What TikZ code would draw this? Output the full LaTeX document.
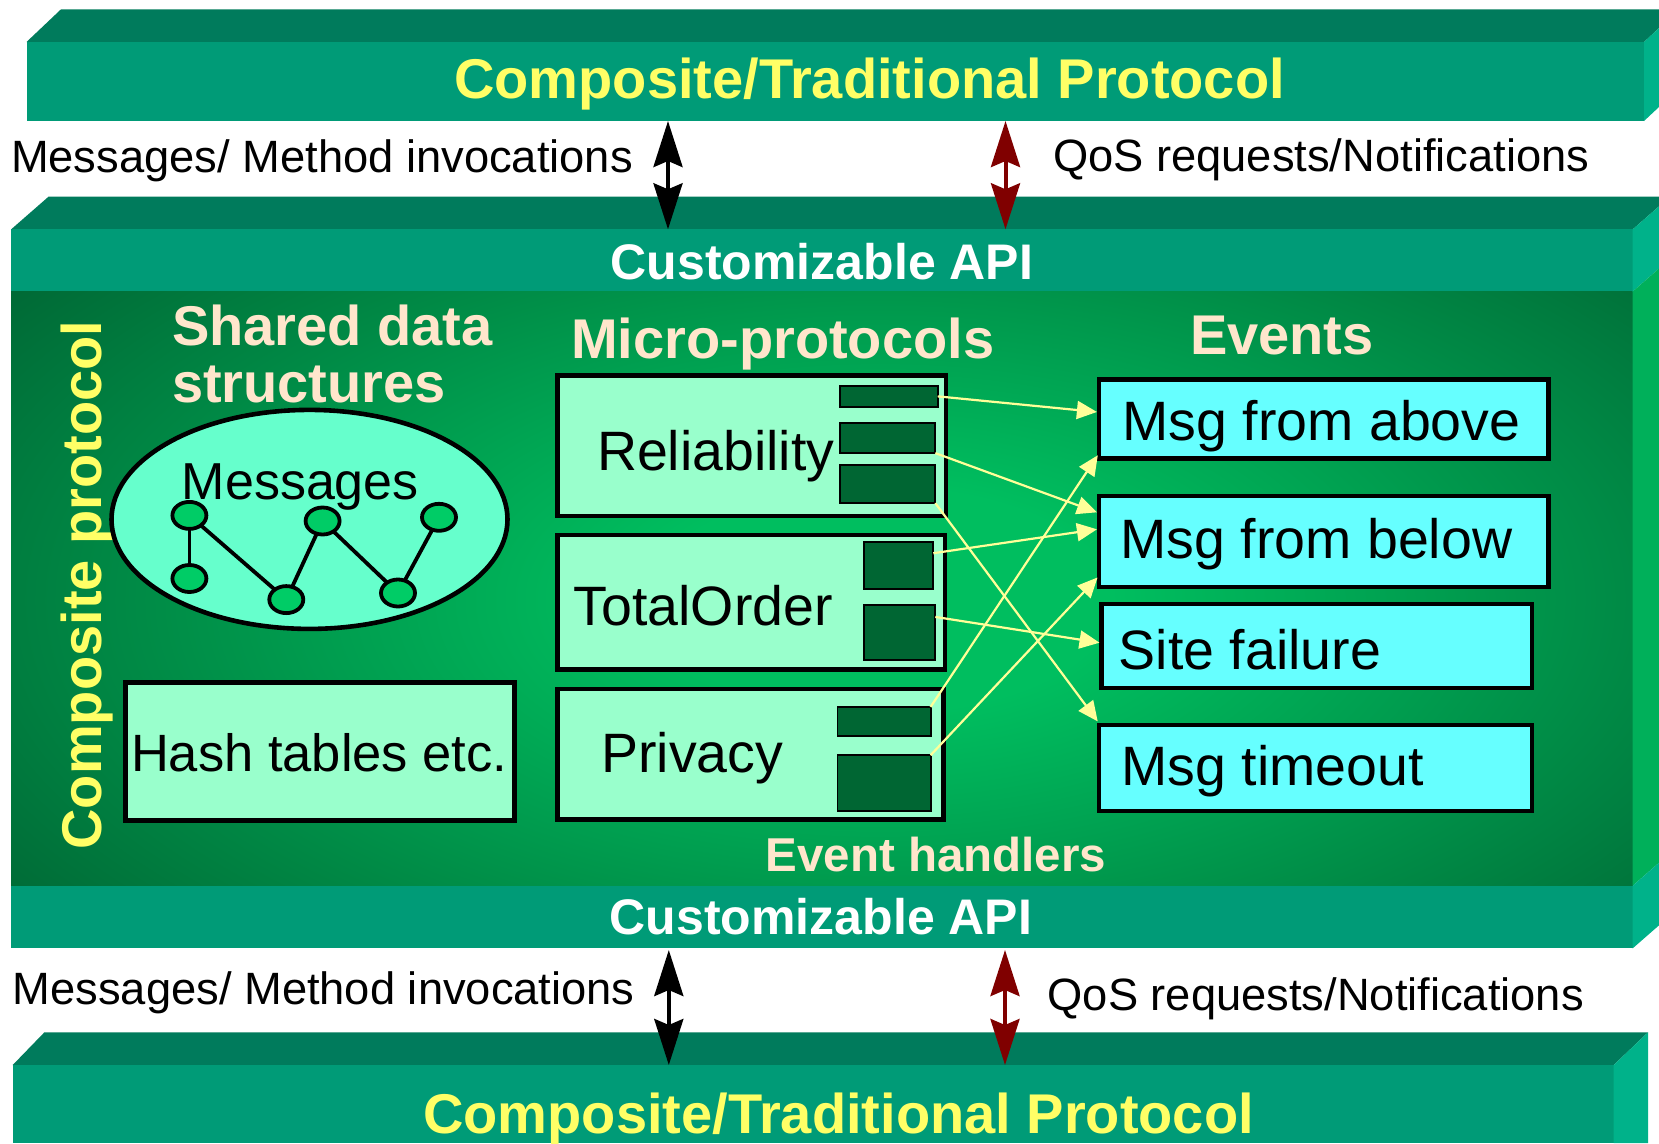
\documentclass[tikz,border=0pt]{standalone}
\usepackage{fontspec}
\setmainfont{Liberation Sans}
\usetikzlibrary{arrows.meta,shapes.geometric,fit}
\definecolor{slabtop}{HTML}{007B5C}
\definecolor{slabfront}{HTML}{009B77}
\definecolor{slabside}{HTML}{00B28A}
\definecolor{bodydark}{HTML}{006232}
\definecolor{bodybright}{HTML}{00BE5F}
\definecolor{bodyside}{HTML}{00B05A}
\definecolor{ttlyellow}{HTML}{FFFF66}
\definecolor{cream}{HTML}{FFE6CC}
\definecolor{ellfill}{HTML}{66FFCC}
\definecolor{dotfill}{HTML}{00CC66}
\definecolor{boxfill}{HTML}{99FFCC}
\definecolor{subfill}{HTML}{006633}
\definecolor{evfill}{HTML}{66FFFF}
\definecolor{hookyellow}{HTML}{FFFF99}
\definecolor{qosred}{HTML}{800000}
\pgfdeclareradialshading{glow}{\pgfpointorigin}{color(0bp)=(bodybright); color(5bp)=(bodybright); color(25bp)=(bodydark); color(50bp)=(bodydark)}
\begin{document}
\begin{tikzpicture}[x=1pt,y=-1pt,
  every node/.style={inner sep=0pt, outer sep=0pt},
  lbl/.style={font=\fontsize{45.3}{54}\selectfont, anchor=base west},
  ttl/.style={font=\fontsize{56}{66}\selectfont\bfseries, text=ttlyellow, anchor=base},
  apitxt/.style={font=\fontsize{50}{60}\selectfont\bfseries, text=white, anchor=base},
  hdr/.style={font=\fontsize{56}{66}\selectfont\bfseries, text=cream, anchor=base west},
  boxtxt/.style={font=\fontsize{55.5}{66}\selectfont, anchor=base west},
  mbox/.style={draw=black, line width=4.7pt, fill=boxfill},
  subbox/.style={draw=black, line width=1.8pt, fill=subfill},
  evbox/.style={draw=black, line width=4.5pt, fill=evfill},
  msgdot/.style={ellipse, draw=black, line width=3.8pt, fill=dotfill, minimum width=34pt, minimum height=27pt},
  hookarrow/.style={draw=hookyellow, line width=2.2pt, shorten >=2pt, -{Triangle[length=20pt,width=18pt]}},
  biarrow/.style={line width=4pt, {Stealth[length=46pt,width=29pt,inset=6pt]}-{Stealth[length=46pt,width=29pt,inset=6pt]}}
]
\useasboundingbox (0,0) rectangle (1659,1143);
\clip (0,0) rectangle (1659,1143);
\fill[white] (0,0) rectangle (1659,1143);

% top slab
\fill[slabtop] (26.5,42) -- (61,9.3) -- (1679,9.3) -- (1644,42) -- cycle;
\fill[slabfront] (26.5,42) rectangle (1644,121);
\fill[slabside] (1644,42) -- (1679,9.3) -- (1679,88.3) -- (1644,121) -- cycle;
\node[ttl] (toptitle) at (869.5,98.3) {Composite/Traditional Protocol};

% middle slab
\fill[slabtop] (11.2,229.3) -- (48.5,196.7) -- (1670,196.7) -- (1632.7,229.3) -- cycle;
\fill[slabfront] (11.2,229.3) rectangle (1632.7,291.5);
\fill[bodydark] (11.2,291.5) rectangle (1632.7,885.7);
\begin{scope}
  \clip (11.2,291.5) rectangle (1632.7,885.7);
  \shade[shading=glow] (880,600) ellipse [x radius=1150, y radius=560];
\end{scope}
\fill[slabfront] (11.2,885.7) rectangle (1632.7,948.3);
\fill[slabside] (1632.7,229.3) -- (1670,196.7) -- (1670,258.9) -- (1632.7,291.5) -- cycle;
\fill[bodyside] (1632.7,291.5) -- (1670,258.9) -- (1670,853.1) -- (1632.7,885.7) -- cycle;
\fill[slabside] (1632.7,885.7) -- (1670,853.1) -- (1670,915.7) -- (1632.7,948.3) -- cycle;
\node[apitxt] (apitop) at (822,279.3) {Customizable API};
\node[apitxt] (apibot) at (821,934.3) {Customizable API};

% bottom slab
\fill[slabtop] (12.7,1065) -- (44.4,1032.3) -- (1648,1032.3) -- (1613.7,1065) -- cycle;
\fill[slabfront] (12.7,1065) rectangle (1613.7,1143);
\fill[slabside] (1613.7,1065) -- (1648,1032.3) -- (1648,1143) -- (1613.7,1143) -- cycle;
\node[ttl] (bottitle) at (838.5,1133.3) {Composite/Traditional Protocol};

% labels inside body
\node[font=\fontsize{56}{66}\selectfont\bfseries, text=ttlyellow, rotate=90, anchor=base] (comp) at (101,585) {Composite protocol};
\node[hdr] (shared1) at (172,345) {Shared data};
\node[hdr] (shared2) at (172,402.5) {structures};
\node[hdr] (micro) at (571,358) {Micro-protocols};
\node[hdr] (events) at (1190,354.5) {Events};
\node[hdr, font=\fontsize{47.5}{57}\selectfont\bfseries] (handlers) at (765.8,871) {Event handlers};

% shared data
\node[ellipse, draw=black, line width=4.6pt, fill=ellfill, minimum width=396pt, minimum height=219pt] (msgell) at (309.5,519.4) {};
\node[boxtxt, font=\fontsize{52}{62}\selectfont] (msgtxt) at (181.8,499.3) {Messages};
\node[msgdot] (n1) at (189.4,515.4) {};
\node[msgdot] (n2) at (189.4,578.5) {};
\node[msgdot] (n3) at (286.3,599.6) {};
\node[msgdot] (n4) at (322.6,521) {};
\node[msgdot] (n5) at (398,593) {};
\node[msgdot] (n6) at (439,517.3) {};
\draw[line width=3.8pt] (n1) -- (n2);
\draw[line width=3.8pt] (n1) -- (n3);
\draw[line width=3.8pt] (n3) -- (n4);
\draw[line width=3.8pt] (n4) -- (n5);
\draw[line width=3.8pt] (n5) -- (n6);

\node[mbox, line width=5pt, fit={(125.5,682.5) (514.9,820.2)}] (hash) {};
\node[boxtxt, font=\fontsize{52.5}{62}\selectfont] (hashtxt) at (131,771) {Hash tables etc.};

% micro-protocols
\node[mbox, fit={(557.4,375.7) (946.1,515.9)}] (rel) {};
\node[mbox, fit={(557.4,535) (945,669.4)}] (tot) {};
\node[mbox, fit={(557.4,689) (943.6,819.4)}] (priv) {};
\node[boxtxt] (reltxt) at (597,470.7) {Reliability};
\node[boxtxt] (tottxt) at (573.6,625) {TotalOrder};
\node[boxtxt] (privtxt) at (601.3,772.7) {Privacy};
\node[subbox, fit={(840.2,385.6) (937.7,407.1)}] (r1) {};
\node[subbox, fit={(840.2,423.2) (935.3,453.1)}] (r2) {};
\node[subbox, fit={(840.2,465.2) (935.3,503.1)}] (r3) {};
\node[subbox, fit={(864.3,542.2) (933.3,589.1)}] (t1) {};
\node[subbox, fit={(864.3,604.9) (935.3,660.1)}] (t2) {};
\node[subbox, fit={(837.5,706.9) (930.6,735.8)}] (p1) {};
\node[subbox, fit={(837.5,755.2) (930.6,810.8)}] (p2) {};

% events
\node[evbox, fit={(1098.9,379.7) (1548.6,458.6)}] (ev1) {};
\node[evbox, fit={(1098.9,496) (1548.6,587)}] (ev2) {};
\node[evbox, fit={(1101.5,604) (1532,688)}] (ev3) {};
\node[evbox, fit={(1098.9,725) (1532,810.8)}] (ev4) {};
\node[boxtxt] (ev1txt) at (1122.5,440.5) {Msg from above};
\node[boxtxt] (ev2txt) at (1120.6,558.7) {Msg from below};
\node[boxtxt] (ev3txt) at (1118.8,669.9) {Site failure};
\node[boxtxt] (ev4txt) at (1121.4,785) {Msg timeout};

% handler arrows
\draw[hookarrow] (r1.east) -- ([yshift=7pt]ev1.west);
\draw[hookarrow] (r2.south east) -- ([yshift=-17pt]ev2.north west);
\draw[hookarrow] (r3.south east) -- ([yshift=2pt]ev4.north west);
\draw[hookarrow] ([yshift=-11pt]t1.north east) -- ([yshift=-33pt]ev2.north west);
\draw[hookarrow] ([yshift=-12pt]t2.north east) -- ([yshift=3pt]ev3.west);
\draw[hookarrow] (p1.north east) -- ([yshift=5pt]ev1.south west);
\draw[hookarrow] (p2.north east) -- ([yshift=11pt]ev2.south west);

% inter-layer arrows
\coordinate (ma1) at (668,121);
\coordinate (mb1) at (668,229.3);
\coordinate (qa1) at (1005.5,121);
\coordinate (qb1) at (1005.5,229.3);
\coordinate (ma2) at (668.8,950);
\coordinate (mb2) at (668.8,1065);
\coordinate (qa2) at (1005,950);
\coordinate (qb2) at (1005,1065);
\draw[biarrow, black] (ma1) -- (mb1);
\draw[biarrow, qosred] (qa1) -- (qb1);
\draw[biarrow, black] (ma2) -- (mb2);
\draw[biarrow, qosred] (qa2) -- (qb2);

\node[lbl] (msglbl1) at (11,172) {Messages/ Method invocations};
\node[lbl] (qoslbl1) at (1053,171.7) {QoS requests/Notifications};
\node[lbl] (msglbl2) at (12.7,1004) {Messages/ Method invocations};
\node[lbl] (qoslbl2) at (1047.6,1010) {QoS requests/Notifications};
\end{tikzpicture}
\end{document}
